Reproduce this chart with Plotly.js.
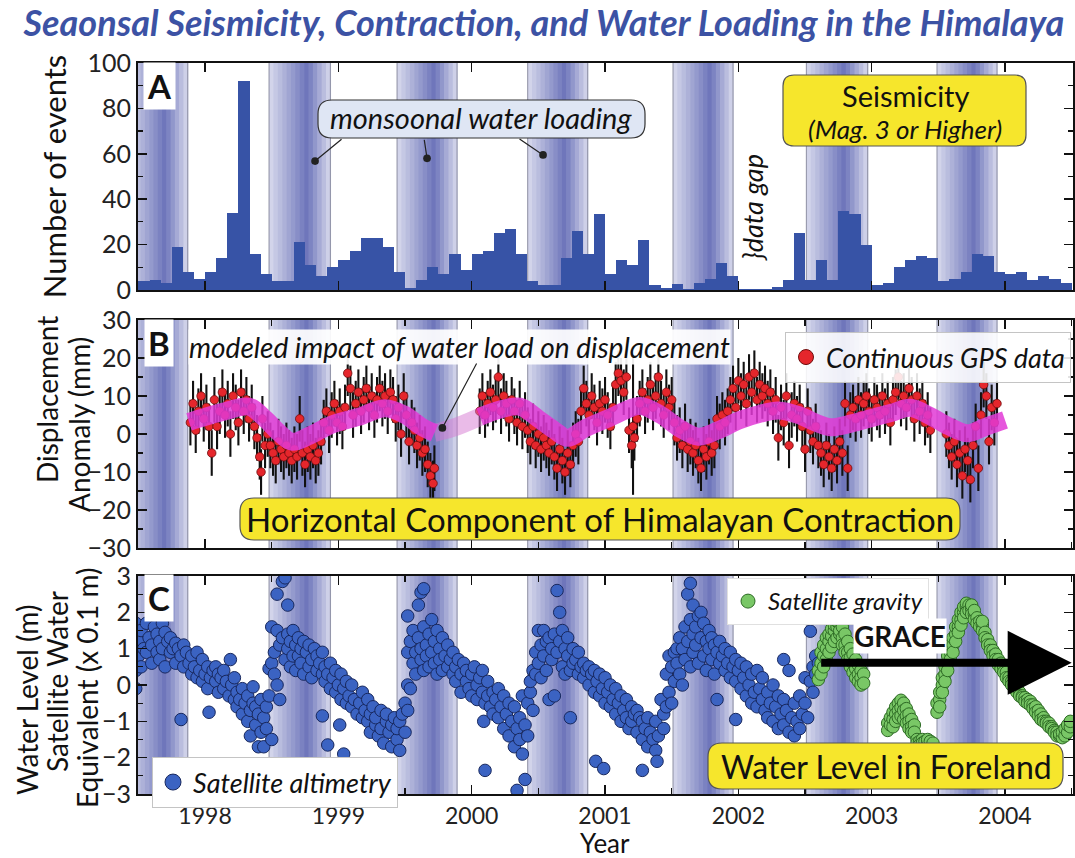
<!DOCTYPE html>
<html><head><meta charset="utf-8">
<script src="https://cdn.plot.ly/plotly-3.0.1.min.js"></script>
<style>html,body{margin:0;padding:0;background:#fff}#chart{width:1075px;height:858px}</style>
</head><body><div id="chart"></div>
<script>
// ---------------- DATA ----------------
// Monthly counts of Mag>=3 events, starting July 1997
const seisStartYear = 1997, seisStartMonth = 7;
const seismicity = [4,4.5,3,19,8,5,8,14,34,92,16,7,4,4,21,11,6,10,13,17,23,23,19,8,1,4.5,10,7,16,9,16,17,25,27,16,4,2,2,14,26,16,33.5,
  7,13,11,22,2,1,2.5,0.3,3,5,12,6,
  0.5,0.5,0.5,1.5,4.5,25,4.5,13,4.5,35,33.5,20,
  2,3,10,13,15,14,4,5,8,16,15,8,
  7,8,4.5,6,5,3];

// Monsoon (water loading) seasons, decimal years
const monsoonStart = [1997.42, 1998.48, 1999.44, 2000.42, 2001.51, 2002.51, 2003.49];
const monsoonEnd   = [1997.87, 1998.94, 1999.89, 2000.87, 2001.96, 2002.97, 2003.94];

// Continuous GPS: [year, displacement mm, (optional error mm)]
const gpsTypicalErr = 6;
const gps = [
[1997.89,3],[1997.91,8],[1997.93,1],[1997.95,6],[1997.97,10],[1997.99,4],[1998.01,7],[1998.03,2],[1998.05,-5],[1998.07,9],[1998.09,2],[1998.11,6],[1998.13,11],[1998.15,5],[1998.17,8],[1998.19,0],[1998.21,10],[1998.23,7],[1998.25,3],[1998.27,11],[1998.29,6],[1998.31,9],[1998.33,4],
[1998.35,7],[1998.37,2],[1998.39,-1],[1998.41,-6],[1998.42,-10],[1998.43,4],[1998.45,-3],[1998.47,0],
[1998.49,-3],[1998.51,-5],[1998.53,-7],[1998.55,-2],[1998.57,-4],[1998.59,-6],[1998.61,-3],[1998.63,-5],[1998.65,-7],[1998.67,-4],[1998.69,-6],[1998.71,4],[1998.73,-5],[1998.75,-8],[1998.77,-4],[1998.79,-6],[1998.81,-3],[1998.83,-7],[1998.85,-5],[1998.87,-2],
[1998.89,3],[1998.91,6],[1998.93,1],[1998.95,5],[1998.97,8],[1998.99,3],[1999.01,6],[1999.03,2],[1999.05,7],[1999.07,16],[1999.09,12],[1999.11,5],
[1999.13,8],[1999.15,11],[1999.17,6],[1999.19,9],[1999.21,12],[1999.23,7],[1999.25,10],[1999.27,5],[1999.29,9],[1999.31,12],[1999.33,8],[1999.35,10],[1999.37,6],[1999.39,11],
[1999.41,9],[1999.43,4],[1999.45,7],[1999.47,0],[1999.49,10],[1999.51,5],[1999.53,-2],[1999.55,3],
[1999.57,1],[1999.59,-3],[1999.61,-1],[1999.63,-5],[1999.65,-4],[1999.67,-8],[1999.69,-11],[1999.71,-13],[1999.72,-9],
[2000.06,6],[2000.08,10],[2000.10,5],[2000.12,8],[2000.14,11],[2000.16,7],[2000.18,9],[2000.20,15],[2000.22,6],[2000.24,10],[2000.26,8],
[2000.28,4],[2000.30,9],[2000.32,6],[2000.34,3],[2000.36,8],[2000.38,2],[2000.40,5],
[2000.42,1],[2000.44,-2],[2000.46,2],[2000.48,-3],[2000.50,0],[2000.52,-4],[2000.54,-1],[2000.56,-3],[2000.58,-5],
[2000.60,-2],[2000.62,-6],[2000.64,-9],[2000.66,-4],[2000.68,-7],[2000.70,-10],[2000.72,-5],[2000.74,-8],[2000.76,-3],[2000.78,0],[2000.80,-2],
[2000.82,6],[2000.84,12],[2000.86,8],[2000.88,5],[2000.90,10],[2000.92,7],[2000.94,3],[2000.96,8],[2000.98,6],[2001.00,9],[2001.02,5],[2001.04,2],[2001.06,7],
[2001.08,13],[2001.10,16],[2001.12,14],[2001.14,11],[2001.16,15],
[2001.18,1],[2001.20,-3],[2001.21,2,18],[2001.22,-1],[2001.24,4],
[2001.26,8],[2001.28,11],[2001.30,6],[2001.32,9],[2001.34,13],[2001.36,7],[2001.38,10],[2001.40,15],[2001.42,8],[2001.44,5],[2001.46,11],[2001.48,7],[2001.50,9],
[2001.52,3],[2001.54,-1],[2001.56,1],[2001.58,-3],[2001.60,2],[2001.62,-4],[2001.64,-2],
[2001.66,-5],[2001.68,-3],[2001.70,-7],[2001.72,-9],[2001.74,-4],[2001.76,-6],[2001.78,-2],[2001.80,-5],[2001.82,-3],
[2001.84,4],[2001.86,2],[2001.88,5],[2001.90,3],[2001.92,6],
[2001.94,9],[2001.96,12],[2001.98,7],[2002.00,14],[2002.02,10],[2002.04,13],[2002.06,8],[2002.08,15],[2002.10,11],[2002.12,16],[2002.14,9],[2002.16,13],[2002.18,10],[2002.20,12],[2002.22,8],
[2002.24,11],[2002.26,6],[2002.28,9],[2002.30,-1],[2002.32,7],[2002.34,3],[2002.36,10],[2002.38,-3],[2002.40,5],[2002.42,8],[2002.44,4],[2002.46,7],[2002.48,2],[2002.50,-4],[2002.52,6],
[2002.54,1],[2002.56,-2],[2002.58,2],[2002.60,-3],
[2002.62,-5],[2002.64,-8],[2002.66,-3],[2002.68,-6],[2002.70,-9],[2002.72,-4],[2002.74,-7],[2002.76,-2],[2002.78,-5],[2002.80,8],[2002.82,-9],[2002.84,5],
[2002.86,7],[2002.88,4],[2002.90,9],[2002.92,5],[2002.94,8],[2002.96,10],[2002.98,6],[2003.00,4],[2003.02,9],[2003.04,7],[2003.06,5],[2003.08,10],[2003.10,6],[2003.12,8],[2003.14,3],
[2003.16,9],[2003.18,11],[2003.20,15],[2003.22,8],[2003.24,10],[2003.26,7],[2003.28,12],[2003.30,9],[2003.32,4],[2003.34,10],[2003.36,6],[2003.38,8],[2003.40,3],[2003.42,5],[2003.44,1],
[2003.56,0],[2003.58,-3],[2003.60,-6],[2003.62,-2],[2003.64,-8],[2003.66,-5],[2003.68,-11],[2003.70,-4],[2003.72,-7],[2003.74,-12],[2003.76,-3],
[2003.78,2],[2003.80,-9],[2003.82,5],[2003.84,13],[2003.86,10],[2003.88,-2],[2003.90,7],[2003.92,3],[2003.94,8]
];
const gpsGap = [1999.72, 2000.06];

// Modeled impact of water load on displacement: [year, mm]
const modeled = [[1997.88,3.2],[1998.0,4.5],[1998.15,6],[1998.33,7.2],[1998.45,4],[1998.55,0.5],[1998.65,-2],[1998.78,-0.5],[1998.95,2.5],[1999.15,4.5],[1999.35,6.8],[1999.5,5],[1999.62,2],[1999.72,0.3],[1999.85,1.5],[2000.06,4.5],[2000.22,6.5],[2000.36,7.2],[2000.5,4],[2000.62,1],[2000.72,-1],[2000.85,1.5],[2001.05,4.5],[2001.26,7.4],[2001.42,5],[2001.56,1.5],[2001.7,-0.7],[2001.85,1],[2002.0,3.5],[2002.16,5.3],[2002.3,6.2],[2002.45,5],[2002.58,3],[2002.69,1.8],[2002.85,2.8],[2003.0,4.2],[2003.15,5.6],[2003.29,6.9],[2003.45,4.5],[2003.58,2],[2003.72,0.2],[2003.86,2],[2004.0,3.7]];

// Satellite altimetry: [year, level, level, ...]
const altimetry = [
[1997.48,1.7,0.4,-0.1],[1997.50,1.2,0.8],[1997.52,1.5,0.5],[1997.54,1.0],[1997.56,1.7,0.9],[1997.58,1.3],[1997.60,0.6,1.1],[1997.62,1.6],[1997.64,0.9,1.4],[1997.66,1.2,0.7],[1997.68,1.7,1.0],[1997.70,1.45,0.5],[1997.72,1.2],[1997.74,0.9,1.3],[1997.76,1.0],[1997.78,0.6,1.15],[1997.80,1.0],[1997.82,0.8,-0.95],[1997.84,1.1,0.5],[1997.86,0.9],[1997.88,0.6],
[1997.90,0.8,0.3],[1997.92,0.5],[1997.94,0.9,0.2],[1997.96,0.4],[1997.98,0.7,0.1],[1998.00,0.3],[1998.02,0.5,-0.1],[1998.03,-0.75],[1998.04,0.2],[1998.06,0.4],[1998.08,0.1,0.5],[1998.10,-0.2,0.3],[1998.12,0.2],[1998.14,-0.1,0.4],[1998.16,0.1],[1998.18,-0.3],[1998.19,0.7],[1998.20,0.0],[1998.22,-0.4,0.2],
[1998.24,-0.2,-0.6],[1998.26,-0.4],[1998.28,-0.8,-0.1],[1998.30,-0.5],[1998.32,-1.0,-0.3],[1998.34,-0.7,-1.4],[1998.36,-0.5,-0.05],[1998.38,-1.1,-0.6],[1998.40,-0.8,-1.7],[1998.42,-1.3,-0.4],[1998.44,-0.9,-1.7],[1998.46,-0.6,-1.2],[1998.48,-0.3,0.45],[1998.50,0.6,-1.5,1.6],
[1998.52,0.9,0.3],[1998.54,1.5,0.0,2.5],[1998.56,1.1,-0.4],[1998.58,1.3,2.85],[1998.60,0.7,2.95],[1998.62,1.0,1.4,2.2],[1998.64,1.2,0.5],[1998.66,0.8,1.5],[1998.68,1.1,0.4],[1998.70,1.3,0.8],[1998.72,0.6,1.0],[1998.74,1.2,0.3],[1998.76,0.9],[1998.78,0.5,1.1],[1998.80,0.7,0.2],[1998.82,1.0],[1998.84,0.4,0.8],[1998.86,0.6],[1998.88,0.3,0.9,-0.85],
[1998.90,0.5,0.1],[1998.92,0.3,-1.65],[1998.94,0.6,-0.1],[1998.96,0.2],[1998.98,0.4,-0.2],[1999.00,0.0],[1999.01,-1.1],[1999.02,0.3,-0.4],[1999.04,-0.1,-1.9],[1999.06,0.1,-0.5],[1999.08,-0.3],[1999.10,-0.6,0.0],[1999.12,-0.4],[1999.14,-0.8],[1999.16,-0.5],[1999.18,-0.9,-0.2],[1999.19,-3.1],[1999.20,-0.7],[1999.22,-1.0,-0.4],
[1999.24,-0.8,-1.3],[1999.26,-0.6],[1999.28,-1.1,-0.9],[1999.30,-1.4],[1999.32,-0.7,-1.2],[1999.34,-1.6],[1999.36,-1.0,-0.8],[1999.38,-1.3],[1999.40,-1.7,-1.1],[1999.42,-0.9],[1999.44,-1.5,-1.2],[1999.46,-1.0,-1.8],[1999.48,-0.8],[1999.50,-1.3,-0.5],[1999.52,-0.7,1.9,0.0,0.9],
[1999.54,1.2,-0.1],[1999.56,0.6,1.5],[1999.58,0.9,0.3],[1999.60,1.3,2.2],[1999.62,0.7,2.55,1.0],[1999.64,1.6,2.65,0.4],[1999.66,1.1,0.8],[1999.68,1.4,0.5],[1999.70,1.8,0.9],[1999.72,1.2,0.6],[1999.74,1.5,0.3],[1999.76,1.0,0.7],[1999.78,1.3,0.4],[1999.80,0.8],[1999.82,1.1,0.5],[1999.84,0.7],[1999.86,0.9,0.3],
[1999.88,0.5,0.1],[1999.90,0.7],[1999.92,0.3,-0.2],[1999.94,0.6],[1999.96,0.1,0.4],[1999.98,-0.1],[2000.00,0.3,-0.3],[2000.02,0.5],[2000.04,0.0,-0.4],[2000.06,0.2],[2000.08,-0.2,0.4],[2000.09,-1.0],[2000.10,-0.5,-2.35],[2000.12,0.1,-0.3],[2000.14,-0.6],[2000.16,-0.2,-0.8],[2000.18,-0.4],[2000.20,-0.9,-0.1],[2000.22,-0.6],
[2000.24,-1.2,-0.3],[2000.26,-0.8],[2000.28,-1.4,-0.5],[2000.30,-1.0],[2000.32,-1.7,-0.6],[2000.34,-1.2,-2.9],[2000.36,-0.9,-1.5],[2000.38,-1.9,-0.3],[2000.40,-1.1,-2.6],[2000.42,-0.5,-1.4],[2000.44,-0.2,0.1],[2000.46,-0.7,0.4],
[2000.48,0.3,0.9],[2000.50,1.5,0.6],[2000.52,1.1,0.2],[2000.54,1.5,0.8],[2000.56,0.4,1.2],[2000.58,1.3,-0.4],[2000.60,0.7,1.0],[2000.62,1.4,-0.3],[2000.64,0.9,2.6],[2000.66,1.2,2.0],[2000.68,0.5,1.5],[2000.70,1.0,0.3],[2000.72,0.8,1.3],[2000.74,0.4,-0.9],[2000.76,1.0,0.6],[2000.78,0.7],[2000.80,0.3,0.9],[2000.82,0.5],
[2000.84,0.2,0.6],[2000.86,0.4],[2000.88,0.0,0.5],[2000.90,0.3],[2000.93,-2.1],[2000.92,-0.2,0.4],[2000.94,0.1],[2000.96,-0.3,0.3],[2000.98,-0.1],[2000.99,-2.3],[2001.00,-0.5,0.2],[2001.02,-0.2],[2001.04,-0.6,0.0],[2001.06,-0.4],[2001.08,-0.8,-0.1],[2001.10,-0.5],[2001.12,-1.0,-0.3],[2001.14,-0.7],[2001.16,-0.9,-0.4],[2001.18,-1.2],[2001.20,-0.6,-1.0],[2001.22,-0.8],
[2001.24,-1.3,-0.7],[2001.26,-0.9],[2001.28,-1.0,-1.5,-2.35],[2001.30,-1.2],[2001.32,-1.7,-0.9],[2001.34,-1.3],[2001.36,-1.5],[2001.38,-1.0,-1.8],[2001.39,-2.1],[2001.40,-1.4],[2001.42,-0.4],[2001.44,-1.2,-0.8],[2001.46,-0.6,0.3],[2001.48,-0.2,0.8],[2001.50,0.5,-0.5],[2001.52,0.9,0.1],
[2001.54,0.6,1.0],[2001.56,0.3,1.3],[2001.58,1.0,0.0],[2001.60,1.6,0.7],[2001.62,1.2,2.5],[2001.64,0.5,1.8,2.8],[2001.66,1.4,0.9,2.2],[2001.68,1.1,1.6],[2001.70,1.9,0.6],[2001.72,1.3,2.0],[2001.74,0.8,1.7],[2001.76,1.2,0.4],[2001.78,1.5,1.0],[2001.80,0.7,1.3],[2001.82,1.1,0.3],[2001.84,0.9,-0.4],[2001.86,1.2,0.6],[2001.88,0.8],[2001.90,1.0,0.4],[2001.92,0.6],[2001.94,0.9,0.2],[2001.96,0.5],
[2001.98,0.7,0.1,-0.95],[2002.00,0.4],[2002.02,0.6,-0.1],[2002.04,0.2],[2002.06,0.5,-0.3],[2002.08,0.0],[2002.10,0.3,-0.5],[2002.12,-0.2],[2002.14,0.4,-0.6],[2002.16,-0.1],[2002.18,-0.4,0.2],[2002.20,-0.7],[2002.22,-0.2,-0.9],[2002.24,-0.5],[2002.26,0.0,-1.0],[2002.28,-0.6],[2002.30,-1.2,-0.3],[2002.32,-0.8],
[2002.34,-1.1,-0.4,0.7],[2002.36,-0.7],[2002.38,-1.3,0.4],[2002.40,-0.9],[2002.42,-0.5,-1.4],[2002.44,-1.0],[2002.46,-0.3,-1.2],[2002.48,-0.8],[2002.50,-0.5,0.2],[2002.52,-0.9],[2002.54,0.1,1.48],[2002.56,0.5,-0.2],[2002.58,0.3,0.8],[2002.60,0.6]
];

// Satellite gravity (GRACE): [year, level, level, ...]
const grace = [
[2002.60,0.4,0.15],[2002.62,0.6,0.3,0.9],[2002.64,0.8,0.5,1.1],[2002.66,1.0,0.7,1.3],[2002.68,1.2,0.9,1.4],[2002.70,1.35,1.05,1.55],[2002.72,1.5,1.2,1.65],[2002.74,1.6,1.3,1.75],[2002.76,1.7,1.4,1.5],[2002.78,1.6,1.3,1.1],[2002.80,1.4,1.1,0.9],[2002.82,1.2,0.9,0.7],[2002.84,1.0,0.75,0.5],[2002.86,0.85,0.6,0.35],[2002.88,0.7,0.45,0.2],[2002.90,0.55,0.3,0.1],[2002.92,0.4,0.2,0.0],[2002.94,0.3,0.05],
[2003.12,-1.05,-1.25],[2003.14,-0.9,-1.1],[2003.16,-0.75,-0.95,-1.15],[2003.18,-0.6,-0.8,-1.0],[2003.20,-0.5,-0.7,-0.9],[2003.22,-0.42,-0.62,-0.85],[2003.24,-0.5,-0.7,-0.95],[2003.26,-0.65,-0.85,-1.05],[2003.28,-0.8,-1.0,-1.2],[2003.30,-0.95,-1.15,-1.3],[2003.32,-1.1,-1.3],[2003.34,-1.5,-1.6],[2003.36,-1.55,-1.65],[2003.38,-1.5,-1.6],[2003.40,-1.55],[2003.42,-1.6,-1.5],[2003.44,-1.55],[2003.46,-1.6],
[2003.49,-0.75,-0.5],[2003.51,-0.4,-0.2,-0.6],[2003.53,0.0,0.2,-0.2],[2003.55,0.3,0.5,0.1],[2003.57,0.6,0.8,0.4],[2003.59,0.9,1.1,0.7],[2003.61,1.1,1.3,0.9],[2003.63,1.4,1.6,1.2],[2003.65,1.6,1.8,1.45],[2003.67,1.8,2.0,1.65],[2003.69,2.0,2.15,1.85],[2003.71,2.15,2.25,2.0],[2003.73,2.2,2.05],[2003.75,2.1,1.95,2.2],[2003.77,1.95,1.8,2.05],[2003.79,1.85,1.7],[2003.81,1.75,1.6],[2003.83,1.65,1.5,1.75],[2003.85,1.45,1.3],[2003.87,1.25,1.1],[2003.89,1.1,0.95],[2003.91,0.95,0.8],[2003.93,0.85,0.7],[2003.95,0.7,0.55],[2003.97,0.6,0.45],[2003.99,0.5,0.35],
[2004.01,0.35,0.2],[2004.03,0.2,0.1],[2004.05,0.1,0.0],[2004.07,0.0,-0.1],[2004.09,-0.1,-0.2],[2004.11,-0.2,-0.3],[2004.13,-0.3,-0.35],[2004.15,-0.35,-0.45],[2004.17,-0.4,-0.5],[2004.19,-0.45,-0.55],[2004.21,-0.55,-0.65],[2004.23,-0.6,-0.75],[2004.25,-0.7,-0.85],[2004.27,-0.8,-0.95],[2004.29,-0.9,-1.0],[2004.31,-1.0,-1.05],[2004.33,-1.05,-1.15],[2004.35,-1.15,-1.2],[2004.37,-1.25,-1.3],[2004.39,-1.3,-1.4],[2004.41,-1.4,-1.35],[2004.43,-1.45,-1.3],[2004.45,-1.4,-1.2],[2004.47,-1.3,-1.1],[2004.49,-1.15,-1.0]
];

const yearTicks = [1998, 1999, 2000, 2001, 2002, 2003, 2004];
const yearLabels = ['1998','1999','2000','2001','2002','2003','2004'];

// ---------------- BUILD ----------------
const F = 'Lato, "Open Sans", sans-serif';
const W = 1075, H = 858, ML = 138, MR = 2, MT = 63, MB = 64;
const PW = W - ML - MR, PH = H - MT - MB;
const px = v => (v - ML) / PW, py = v => 1 - (v - MT) / PH;

const seisX = seismicity.map((_, i) => seisStartYear + (seisStartMonth - 1 + i + 0.5) / 12);

const flat = rows => { const xs = [], ys = []; rows.forEach(r => { for (let k = 1; k < r.length; k++) { xs.push(r[0]); ys.push(r[k]); } }); return [xs, ys]; };
const [altX, altY] = flat(altimetry);
const [grX, grY] = flat(grace);

const mPre = modeled.filter(r => r[0] <= gpsGap[0]);
const mGap = modeled.filter(r => r[0] >= gpsGap[0] && r[0] <= gpsGap[1]);
const mPost = modeled.filter(r => r[0] >= gpsGap[1]);

const traces = [
  {type:'bar', x: seisX, y: seismicity, width: 1/12, xaxis:'x3', yaxis:'y3',
   marker:{color:'#3753a6', line:{width:0}}, showlegend:false, hoverinfo:'skip'},
  {type:'scatter', mode:'markers', x: gps.map(r=>r[0]), y: gps.map(r=>r[1]), xaxis:'x2', yaxis:'y2',
   error_y:{type:'data', array: gps.map(r=> r.length>2 ? r[2] : gpsTypicalErr), color:'#111', thickness:2.1, width:0},
   marker:{color:'#e5262c', size:8.5, line:{color:'#6e0c0c', width:0.8}}, showlegend:false, hoverinfo:'skip'},
  {type:'scatter', mode:'lines', x: mGap.map(r=>r[0]), y: mGap.map(r=>r[1]), xaxis:'x2', yaxis:'y2',
   line:{color:'rgba(214,120,210,0.5)', width:18, shape:'spline'}, showlegend:false, hoverinfo:'skip'},
  {type:'scatter', mode:'lines', x: mPre.map(r=>r[0]), y: mPre.map(r=>r[1]), xaxis:'x2', yaxis:'y2',
   line:{color:'rgba(226,58,214,0.85)', width:18, shape:'spline'}, showlegend:false, hoverinfo:'skip'},
  {type:'scatter', mode:'lines', x: mPost.map(r=>r[0]), y: mPost.map(r=>r[1]), xaxis:'x2', yaxis:'y2',
   line:{color:'rgba(226,58,214,0.85)', width:18, shape:'spline'}, showlegend:false, hoverinfo:'skip'},
  {type:'scatter', mode:'markers', x: altX, y: altY, xaxis:'x', yaxis:'y',
   marker:{color:'#3b63c2', size:12.5, line:{color:'#18285e', width:1}}, showlegend:false, hoverinfo:'skip'},
  {type:'scatter', mode:'markers', x: grX, y: grY, xaxis:'x', yaxis:'y',
   marker:{color:'#79c766', size:12.5, line:{color:'#2e6b25', width:1}}, showlegend:false, hoverinfo:'skip'},
  // legend entries
  {type:'scatter', mode:'markers', x:[null], y:[null], xaxis:'x2', yaxis:'y2', name:'<i>Continuous GPS data</i>', legend:'legend',
   marker:{color:'#e5262c', size:15, line:{color:'#6e0c0c', width:1}}, showlegend:true},
  {type:'scatter', mode:'markers', x:[null], y:[null], xaxis:'x', yaxis:'y', name:'<i>Satellite altimetry</i>', legend:'legend2',
   marker:{color:'#3b63c2', size:16, line:{color:'#18285e', width:1}}, showlegend:true},
  {type:'scatter', mode:'markers', x:[null], y:[null], xaxis:'x', yaxis:'y', name:'<i>Satellite gravity</i>', legend:'legend3',
   marker:{color:'#79c766', size:14, line:{color:'#2e6b25', width:1}}, showlegend:true}
];

// monsoon gradient bands
const shapes = [];
const N = 14;
const mix = a => { const c=[60,70,163]; return 'rgb(' + c.map(v=>Math.round(255*(1-a)+v*a)).join(',') + ')'; };
[['x3','y3'],['x2','y2'],['x','y']].forEach(([xr, yr]) => {
  monsoonStart.forEach((s, k) => {
    const e = monsoonEnd[k], w = (e - s) / N;
    for (let i = 0; i < N; i++) {
      const f = (i + 0.5) / N;
      const t = f < 0.62 ? f / 0.62 : (1 - f) / 0.38;
      shapes.push({type:'rect', xref:xr, yref:yr+' domain', x0:s+i*w, x1:s+(i+1)*w+w*0.15, y0:0, y1:1,
        fillcolor: mix(0.2 + 0.55*t), line:{width:0}, layer:'below'});
    }
    [s, e].forEach(v => shapes.push({type:'line', xref:xr, yref:yr+' domain', x0:v, x1:v, y0:0, y1:1,
      line:{color:'#8d8fa3', width:1}, layer:'below'}));
  });
});

function rrect(x0, y0, x1, y1, r) {
  const P = (x, y) => px(x).toFixed(5) + ',' + py(y).toFixed(5);
  return 'M' + P(x0+r,y0) + ' L' + P(x1-r,y0) + ' Q' + P(x1,y0) + ' ' + P(x1,y0+r) +
    ' L' + P(x1,y1-r) + ' Q' + P(x1,y1) + ' ' + P(x1-r,y1) + ' L' + P(x0+r,y1) +
    ' Q' + P(x0,y1) + ' ' + P(x0,y1-r) + ' L' + P(x0,y0+r) + ' Q' + P(x0,y0) + ' ' + P(x0+r,y0) + ' Z';
}
const box = (x0,y0,x1,y1,r,fill,lc,lw) => shapes.push({type:'path', xref:'paper', yref:'paper', path: rrect(x0,y0,x1,y1,r),
  fillcolor: fill, line:{color: lc, width: lw}, layer:'above'});
box(318,100,645,138,14,'#dfe6f4','#333',1.2);
box(783,75,1026,146,11,'#f6e62c','#555',1.2);
box(240,498,960,540,14,'#f6e62c','#555',1.2);
box(708,743,1063,789,14,'#f6e62c','#555',1.2);

const ann = [];
const txt = (x, y, text, size, o={}) => ann.push(Object.assign({xref:'paper', yref:'paper', x:px(x), y:py(y), text,
  showarrow:false, xanchor:'center', yanchor:'middle', font:{family:F, size, color:'#111'}}, o));
txt(159, 86, '<b>A</b>', 33, {bgcolor:'#fff', borderpad:3});
txt(159, 343, '<b>B</b>', 33, {bgcolor:'#fff', borderpad:3});
txt(159, 598, '<b>C</b>', 33, {bgcolor:'#fff', borderpad:3});
txt(481, 118, '<i>monsoonal water loading</i>', 29);
txt(905, 95, 'Seismicity', 29);
txt(905, 129, '<i>(Mag. 3 or Higher)</i>', 26);
txt(752, 208, '<i>}data gap</i>', 27, {textangle:-90});
txt(459, 347, '<i>modeled impact of water load on displacement</i>', 28, {bgcolor:'rgba(255,255,255,0.92)', borderpad:0});
txt(600, 519, 'Horizontal Component of Himalayan Contraction', 33);
txt(886, 766, 'Water Level in Foreland', 32);
txt(900, 636, '<b>GRACE</b>', 28, {bgcolor:'#fff', borderpad:0});
txt(605, 843, 'Year', 26);
// y-axis titles for panels B and C (stacked lines)
txt(47, 400, 'Displacement', 28, {textangle:-90});
txt(79, 425, 'Anomaly (mm)', 28, {textangle:-90});
txt(27, 700, 'Water Level (m)', 28, {textangle:-90});
txt(57, 682, 'Satellite Water', 28, {textangle:-90});
txt(87, 688, 'Equivalent (x 0.1 m)', 28, {textangle:-90});

const arrow = (xr, yr, x, y, ax, ay, o={}) => ann.push(Object.assign({xref:xr, yref:yr, x, y, ax, ay, text:'', showarrow:true,
  arrowhead:6, arrowsize:1.6, arrowwidth:1.2, arrowcolor:'#222'}, o));
arrow('x3','y3', 1998.825, 56.8, 28, -23);
arrow('x3','y3', 1999.665, 58, -3, -20);
arrow('x3','y3', 2000.535, 59.5, -25, -17);
arrow('x2','y2', 1999.78, 1.6, 35, -66);
arrow('x','y', 2004.5, 0.61, -252, 0, {arrowhead:2, arrowwidth:8, arrowsize:1.6, arrowcolor:'#000'});

const yax = (range, dtick, minor, dom, title, standoff, tsize) => ({
  domain: dom, range, dtick, tick0: 0, ticks:'inside', ticklen:9, tickwidth:1.5, tickcolor:'#111',
  showline:true, linecolor:'#111', linewidth:2, mirror:'allticks', showgrid:false, zeroline:false,
  minor:{dtick:minor, ticks:'inside', ticklen:5, tickwidth:1.2, tickcolor:'#111', showgrid:false},
  tickfont:{family:F, size:25, color:'#222'}, fixedrange:true,
  title:{text:title, standoff, font:{family:F, size:tsize, color:'#111'}}
});
const xax = (anchor, labels, extra={}) => Object.assign({
  anchor, range:[1997.497, 2004.51], tickmode:'array', tickvals:yearTicks, ticktext:yearLabels, showticklabels:labels,
  ticks:'inside', ticklen:9, tickwidth:1.5, tickcolor:'#111', showline:true, linecolor:'#111', linewidth:2,
  mirror:'allticks', showgrid:false, zeroline:false, fixedrange:true,
  tickfont:{family:F, size:23, color:'#222'}
}, extra);

const layout = {
  width:W, height:H, margin:{l:ML, r:MR, t:MT, b:MB, autoexpand:false},
  paper_bgcolor:'#fff', plot_bgcolor:'#fff', font:{family:F},
  title:{text:'<b><i>Seaonsal Seismicity, Contraction, and Water Loading in the Himalaya</i></b>',
    font:{family:F, size:36, color:'#3c52a4'}, x:0.506, xanchor:'center', y:1-23/H, yanchor:'middle', xref:'container', yref:'container'},
  xaxis: xax('y', true, {
    minor:{tickvals: yearTicks.map(v=>v-0.5).concat([2004.5]), ticks:'inside', ticklen:6, tickwidth:1.2, tickcolor:'#111'}}),
  xaxis2: xax('y2', false, {matches:'x',
    minor:{tickvals: yearTicks.map(v=>v-0.5).concat([2004.5]), ticks:'inside', ticklen:6, tickwidth:1.2, tickcolor:'#111'}}),
  xaxis3: xax('y3', false, {matches:'x'}),
  yaxis:  yax([-3,3], 1, 0.5, [0, 0.2982], '', 0, 24),
  yaxis2: yax([-30,30], 10, 5, [0.3365, 0.6484], '', 0, 24),
  yaxis3: yax([0,100], 20, 10, [0.6895, 1], 'Number of events', 12, 31),
  bargap:0,
  shapes, annotations: ann,
  legend: {x:px(785), y:py(332), xanchor:'left', yanchor:'top', bgcolor:'rgba(255,255,255,0.88)', bordercolor:'#c4c4c4', borderwidth:1,
    font:{family:F, size:27, color:'#111'}, itemsizing:'trace', itemwidth:30, tracegroupgap:0},
  legend2: {x:px(152), y:py(757), xanchor:'left', yanchor:'top', bgcolor:'#fff', bordercolor:'#c4c4c4', borderwidth:1,
    font:{family:F, size:27, color:'#111'}, itemsizing:'trace', itemwidth:30},
  legend3: {x:px(727), y:py(578), xanchor:'left', yanchor:'top', bgcolor:'#fff', bordercolor:'#e0e0e0', borderwidth:1,
    font:{family:F, size:24, color:'#111'}, itemsizing:'trace', itemwidth:30}
};

Plotly.newPlot('chart', traces, layout, {staticPlot:true, displayModeBar:false});
</script></body></html>
